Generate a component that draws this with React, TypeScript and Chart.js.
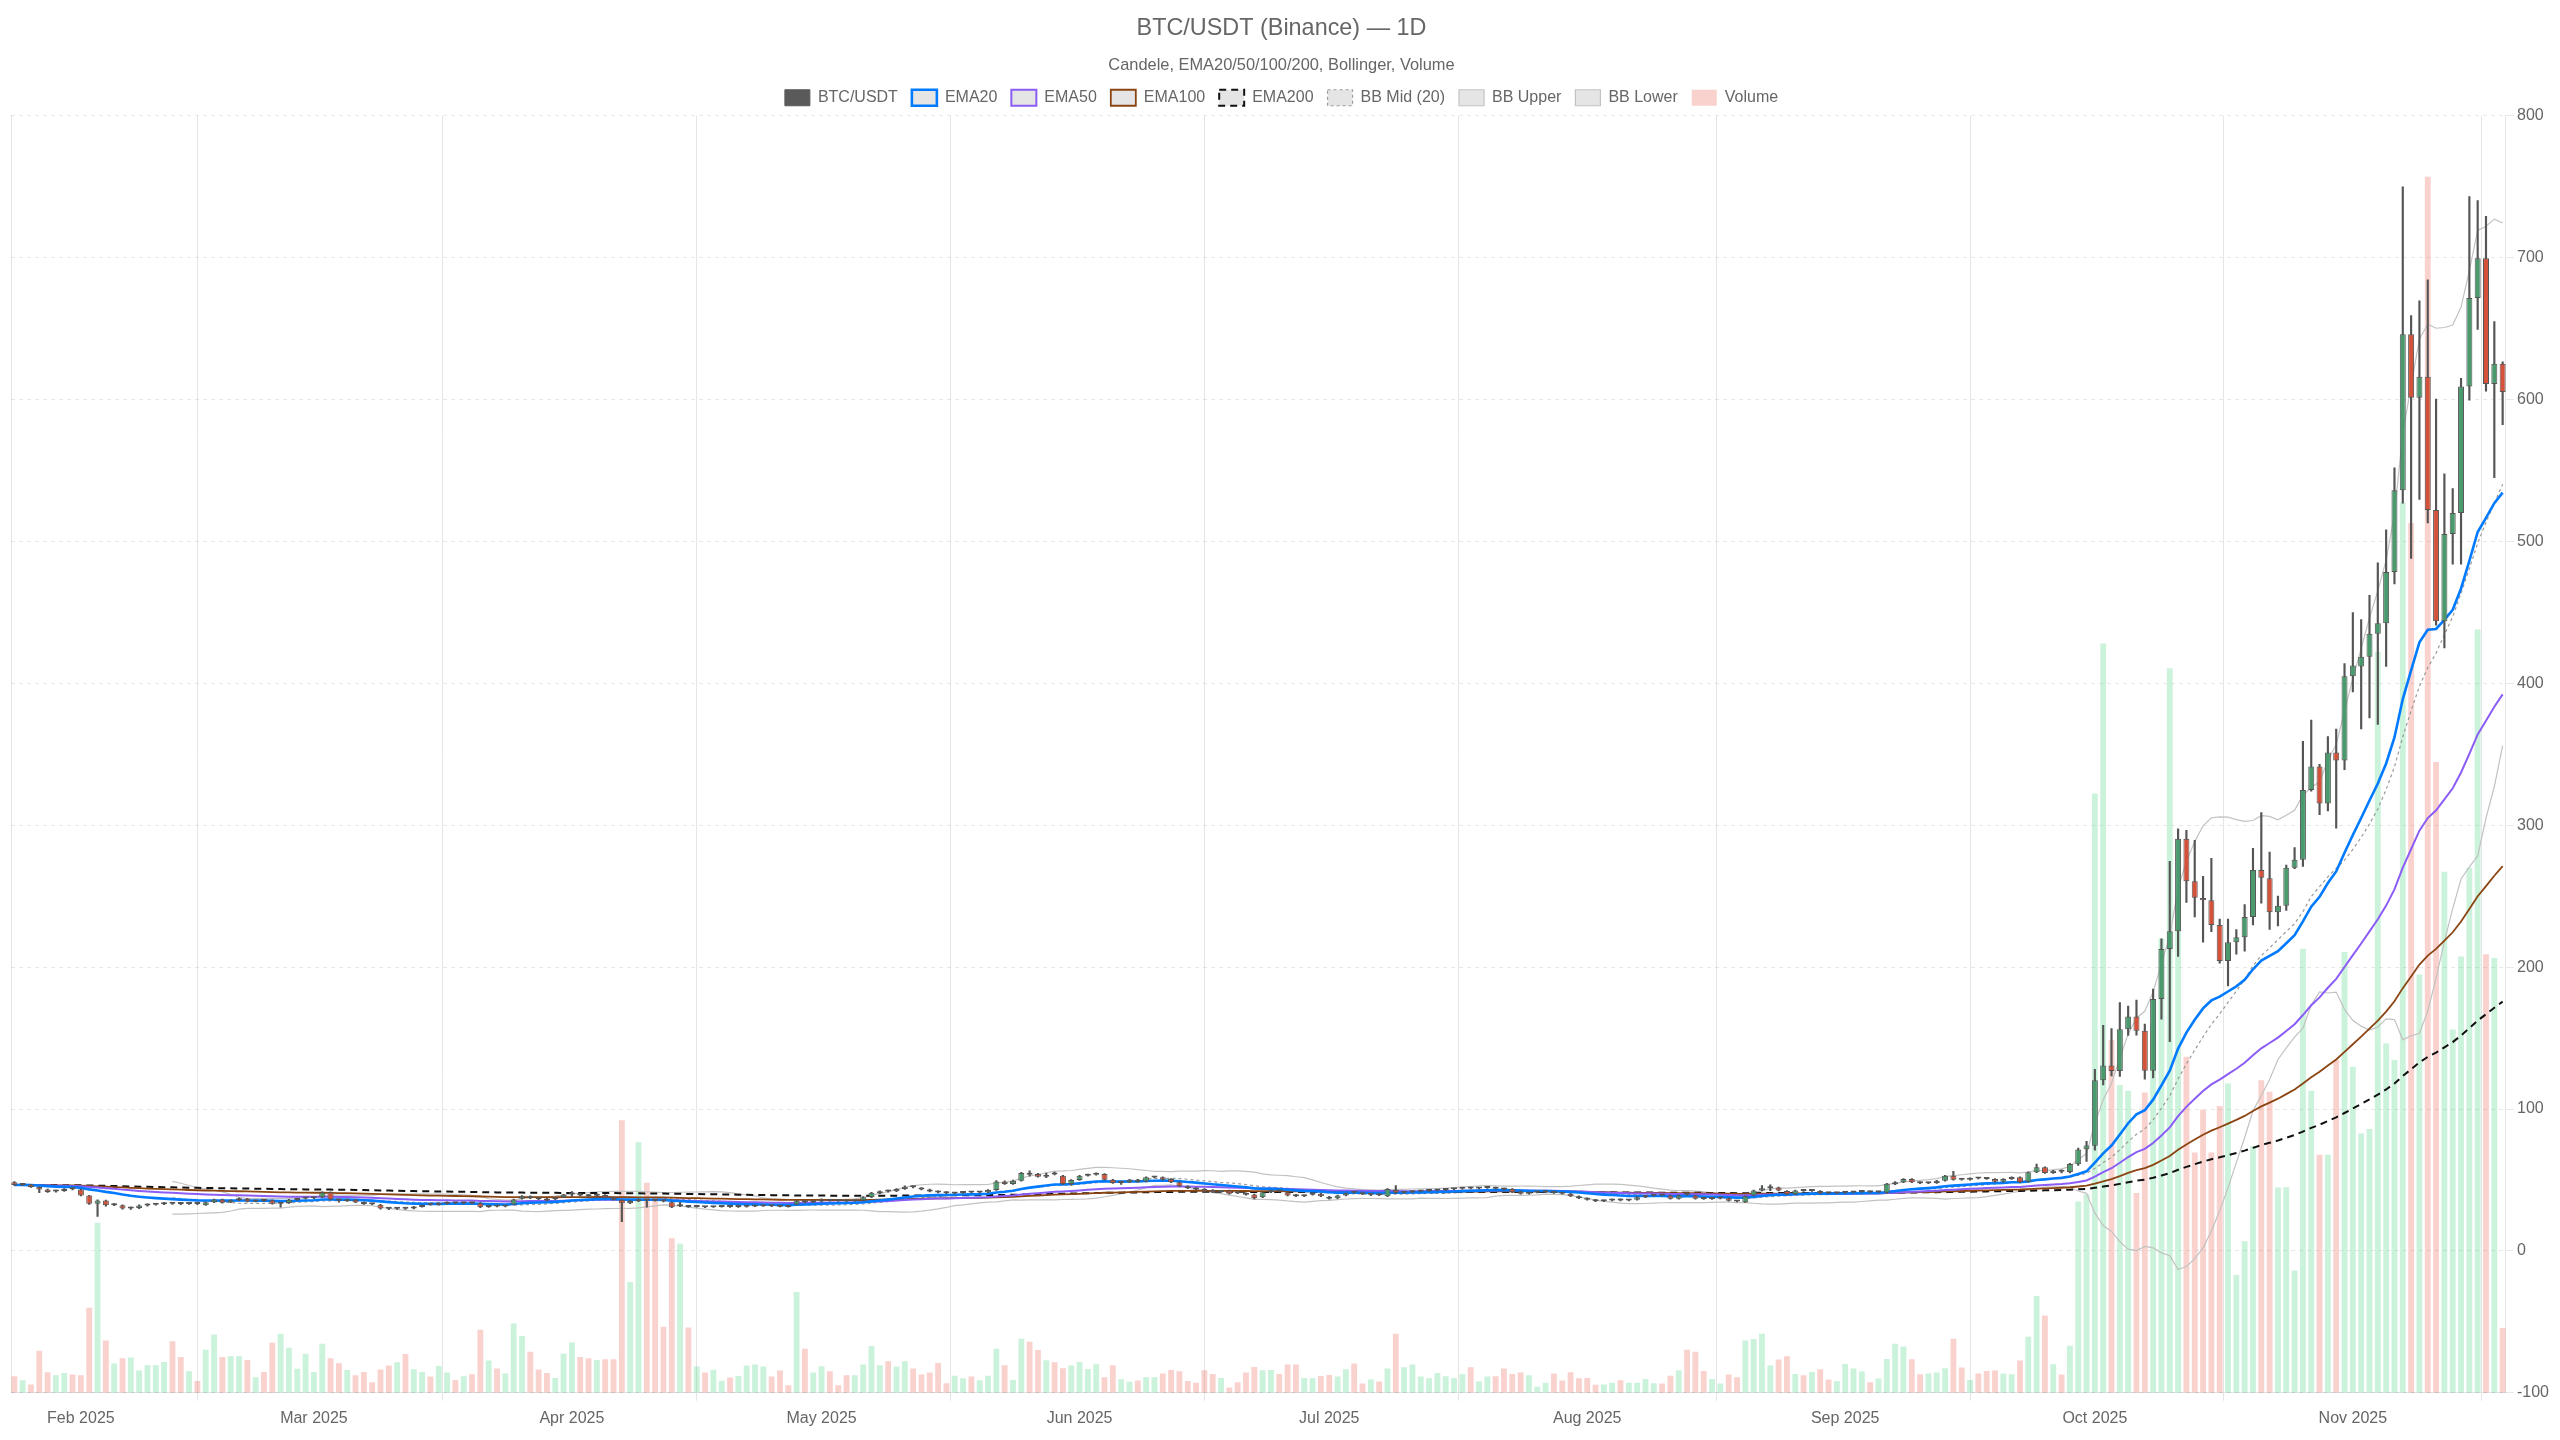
import React, { useEffect, useRef } from 'react';
import { Chart, registerables } from 'chart.js';

Chart.register(...registerables);

// ---- Data (daily candles, first candle = 2025-01-24) ----
const START_DATE = '2025-01-24';

const open = [
  48.4, 46.5, 46.8, 45.0, 43.2, 41.8, 42.2, 44.3, 43.2, 39.0, 33.3, 35.5, 32.2, 32.2, 29.8, 30.2, 32.0, 32.6, 32.8, 33.6,
  33.2, 33.0, 33.3, 32.2, 34.3, 36.2, 34.2, 35.7, 36.7, 34.8, 35.4, 35.7, 33.2, 33.7, 35.8, 36.9, 37.1, 37.8, 41.3, 36.0,
  35.0, 36.0, 34.3, 33.1, 32.6, 29.9, 29.7, 29.9, 29.9, 31.0, 33.0, 32.6, 33.2, 34.0, 33.5, 33.9, 33.6, 30.9, 31.6, 31.3,
  32.7, 36.7, 38.6, 37.4, 36.7, 36.4, 37.9, 39.8, 40.2, 39.5, 38.8, 39.4, 37.6, 35.8, 33.6, 35.0, 36.0, 35.8, 35.4, 34.3,
  31.5, 31.5, 31.0, 31.2, 30.8, 31.0, 31.2, 30.9, 31.1, 31.3, 31.5, 31.7, 31.4, 31.2, 32.7, 35.0, 34.3, 34.9, 35.8, 35.4,
  35.2, 35.0, 35.5, 37.9, 40.7, 42.1, 42.0, 43.7, 45.2, 44.4, 43.2, 42.0, 41.5, 40.5, 40.8, 41.4, 41.1, 41.4, 43.0, 48.8,
  47.2, 49.5, 54.5, 54.2, 52.3, 54.2, 53.0, 47.2, 50.0, 53.0, 53.7, 54.2, 50.2, 47.9, 48.4, 50.2, 49.0, 51.8, 51.9, 50.7,
  48.4, 45.6, 44.4, 43.7, 43.0, 41.6, 42.5, 41.2, 40.7, 39.7, 37.9, 41.4, 42.4, 41.4, 39.5, 38.6, 39.5, 40.2, 38.1, 37.1,
  39.0, 41.4, 40.7, 39.5, 40.0, 38.6, 43.0, 40.9, 41.4, 41.8, 42.2, 42.6, 43.0, 43.4, 43.8, 44.6, 44.0, 44.4, 44.5, 44.0,
  43.7, 41.8, 40.2, 41.1, 41.4, 41.8, 40.9, 40.2, 38.6, 37.1, 36.0, 35.0, 35.5, 36.4, 35.6, 36.0, 37.9, 38.8, 39.4, 39.0,
  36.7, 40.0, 39.0, 36.9, 36.6, 37.0, 37.1, 35.3, 34.3, 39.0, 42.5, 44.2, 44.6, 42.3, 40.0, 42.6, 42.2, 42.3, 40.9, 40.6,
  40.9, 41.1, 41.5, 41.8, 41.4, 40.9, 47.0, 48.4, 50.7, 48.4, 47.6, 47.9, 49.5, 53.0, 50.6, 50.2, 51.4, 51.0, 50.7, 48.8,
  50.7, 51.9, 48.8, 55.4, 58.9, 54.9, 56.5, 55.6, 61.0, 71.6, 74.1, 120.2, 130.7, 126.8, 156.2, 165.2, 155.2, 127.0, 177.5, 212.8,
  225.2, 290.5, 260.5, 248.7, 247.2, 229.7, 204.3, 217.6, 221.1, 235.4, 268.4, 262.7, 238.6, 243.3, 270.0, 275.7, 324.9, 341.4, 315.4, 351.3,
  345.6, 405.0, 411.9, 418.8, 434.9, 442.4, 478.4, 536.0, 646.1, 601.2, 616.1, 522.2, 443.8, 505.3, 520.0, 609.2, 671.5, 699.5, 610.9, 625.3,
];

const high = [
  48.8, 47.2, 47.0, 45.3, 43.5, 42.8, 44.0, 44.8, 43.5, 39.2, 36.0, 35.8, 33.4, 32.5, 30.8, 32.4, 33.2, 33.4, 34.2, 34.0,
  33.6, 33.8, 33.6, 34.6, 36.5, 36.5, 36.0, 37.4, 37.0, 35.8, 35.8, 36.0, 34.2, 36.3, 37.2, 37.6, 38.0, 41.6, 41.6, 36.3,
  36.5, 36.3, 34.5, 33.4, 32.8, 30.2, 30.4, 30.2, 31.4, 32.4, 33.4, 33.8, 34.6, 34.3, 34.2, 34.2, 34.0, 31.8, 31.9, 32.0,
  36.5, 39.0, 38.9, 37.7, 37.0, 37.7, 39.8, 41.8, 40.5, 39.8, 40.3, 39.7, 37.9, 36.1, 35.6, 36.6, 36.3, 36.1, 35.7, 34.6,
  34.3, 31.8, 31.5, 31.4, 31.3, 31.5, 31.4, 31.4, 31.6, 31.8, 32.0, 32.0, 31.7, 31.5, 35.6, 35.3, 35.3, 36.7, 36.1, 35.7,
  35.5, 35.8, 38.2, 41.2, 42.4, 42.8, 44.0, 45.8, 45.8, 44.7, 43.5, 42.3, 41.8, 41.1, 41.6, 41.7, 41.7, 43.3, 49.5, 49.4,
  49.9, 55.3, 56.5, 54.6, 54.8, 55.5, 53.3, 50.3, 53.3, 54.2, 55.0, 54.5, 50.5, 48.8, 50.5, 50.5, 52.2, 52.5, 52.2, 51.0,
  48.7, 45.9, 44.7, 44.0, 43.3, 42.6, 42.8, 41.5, 41.0, 40.0, 41.7, 42.8, 42.9, 41.7, 39.8, 39.4, 41.0, 40.5, 38.4, 39.3,
  41.0, 41.8, 41.0, 40.3, 40.3, 44.0, 46.0, 41.8, 42.3, 42.5, 42.9, 43.3, 43.7, 44.1, 44.8, 45.0, 44.8, 45.2, 44.9, 44.3,
  44.0, 42.1, 41.4, 41.7, 42.1, 42.1, 41.2, 40.5, 38.9, 37.4, 36.3, 35.8, 36.5, 36.7, 36.4, 38.2, 39.1, 39.5, 39.7, 39.3,
  39.3, 41.0, 39.3, 37.2, 37.3, 37.6, 37.4, 35.6, 38.9, 42.8, 46.0, 46.5, 44.9, 42.6, 42.8, 43.2, 43.0, 42.6, 41.2, 41.3,
  41.5, 41.8, 42.1, 42.1, 42.0, 47.7, 48.8, 51.0, 51.0, 48.7, 48.4, 49.8, 53.3, 56.0, 50.9, 51.5, 51.7, 51.3, 51.0, 51.0,
  52.2, 52.2, 55.7, 61.2, 59.2, 56.8, 57.2, 61.8, 72.5, 77.3, 128.0, 159.0, 156.7, 175.0, 172.6, 176.8, 159.8, 184.5, 219.9, 274.6,
  297.5, 296.4, 289.4, 264.0, 276.7, 233.8, 233.8, 226.5, 244.0, 283.7, 309.0, 281.0, 250.0, 272.0, 284.3, 359.2, 374.1, 343.0, 362.4, 367.8,
  413.9, 449.9, 445.0, 462.0, 485.0, 508.1, 551.8, 750.0, 659.1, 669.6, 684.3, 600.3, 547.7, 537.2, 615.0, 743.0, 740.3, 729.2, 655.0, 626.6,
];

const low = [
  46.2, 46.2, 44.8, 41.0, 41.2, 41.4, 42.0, 43.0, 38.8, 32.8, 24.3, 31.6, 31.8, 29.5, 29.3, 29.8, 31.6, 32.2, 32.6, 32.8,
  32.6, 32.7, 32.6, 32.0, 34.0, 33.6, 34.0, 35.4, 34.5, 34.6, 34.8, 33.0, 30.8, 33.5, 35.6, 36.6, 36.8, 37.6, 36.0, 34.4,
  34.8, 34.0, 32.8, 32.5, 29.5, 29.0, 29.3, 29.3, 29.6, 30.8, 32.2, 32.3, 33.0, 33.3, 33.2, 33.2, 30.5, 30.6, 31.0, 31.0,
  32.4, 36.4, 36.8, 36.1, 35.2, 36.1, 37.6, 38.4, 38.8, 38.3, 38.5, 37.3, 35.7, 20.6, 33.3, 34.7, 30.8, 35.0, 34.6, 30.5,
  31.2, 30.7, 30.8, 30.5, 30.6, 30.8, 30.6, 30.7, 30.9, 31.1, 31.3, 31.2, 31.0, 30.8, 32.4, 33.9, 34.0, 34.6, 35.0, 34.8,
  34.7, 34.8, 35.3, 37.6, 40.4, 41.4, 41.8, 43.4, 44.4, 42.9, 41.5, 40.8, 40.3, 40.2, 40.5, 40.8, 40.8, 41.1, 42.7, 46.8,
  46.9, 49.2, 52.6, 52.0, 51.6, 53.5, 46.9, 46.4, 49.7, 52.7, 53.4, 49.9, 47.6, 46.8, 48.1, 48.5, 48.7, 51.4, 49.9, 48.1,
  45.3, 43.9, 42.9, 41.5, 41.1, 41.3, 39.9, 40.3, 39.2, 36.7, 37.6, 41.1, 41.5, 38.7, 38.3, 38.3, 39.2, 38.3, 36.4, 36.8,
  38.7, 40.7, 39.7, 39.0, 39.0, 38.3, 40.6, 40.6, 41.1, 41.5, 41.9, 42.3, 42.7, 43.1, 43.5, 43.7, 43.7, 44.1, 43.5, 42.9,
  41.1, 39.9, 39.9, 40.8, 41.1, 40.6, 39.9, 38.3, 36.8, 35.7, 34.7, 34.7, 35.2, 35.3, 35.3, 35.7, 37.6, 38.5, 38.7, 36.4,
  36.4, 39.3, 36.4, 36.3, 36.3, 36.7, 35.0, 34.5, 34.0, 38.7, 42.2, 42.5, 42.2, 39.7, 39.7, 41.9, 41.9, 40.4, 40.3, 40.3,
  40.6, 40.8, 41.2, 41.1, 41.1, 40.6, 46.7, 48.1, 48.1, 47.3, 47.3, 47.6, 49.2, 49.9, 49.9, 49.9, 50.7, 50.3, 48.5, 48.5,
  50.4, 48.1, 48.5, 55.1, 54.6, 54.6, 55.0, 55.0, 60.2, 63.0, 71.0, 117.0, 123.3, 123.0, 151.9, 152.0, 121.0, 122.0, 163.3, 147.4,
  207.5, 245.6, 235.4, 217.6, 225.0, 202.7, 186.8, 209.1, 211.3, 229.7, 245.0, 226.5, 229.0, 240.0, 269.4, 271.0, 324.0, 307.5, 310.0, 298.0,
  339.2, 393.9, 367.8, 375.7, 371.0, 411.9, 470.1, 526.9, 488.1, 529.7, 513.1, 441.0, 424.9, 484.0, 484.0, 599.5, 649.4, 605.9, 545.0, 582.3,
];

const close = [
  46.5, 46.8, 45.0, 43.2, 41.6, 42.2, 43.6, 43.4, 39.0, 33.3, 35.5, 32.2, 32.8, 29.8, 30.2, 32.0, 32.6, 32.8, 33.6, 33.2,
  33.0, 33.3, 33.0, 34.3, 36.2, 34.0, 35.7, 36.6, 34.8, 35.4, 35.2, 33.2, 33.7, 36.0, 36.9, 37.1, 37.7, 41.1, 36.2, 35.5,
  36.2, 34.2, 33.0, 32.9, 29.8, 29.7, 29.9, 29.7, 31.0, 32.0, 32.6, 33.4, 34.3, 33.6, 33.9, 33.5, 30.8, 31.4, 31.3, 31.6,
  36.2, 38.6, 37.1, 36.4, 35.5, 37.4, 39.5, 40.2, 39.0, 38.6, 40.0, 37.6, 36.0, 33.6, 35.2, 36.3, 35.5, 35.4, 35.0, 30.8,
  32.4, 31.0, 31.2, 30.8, 31.0, 31.2, 30.9, 31.1, 31.3, 31.5, 31.7, 31.4, 31.2, 31.0, 35.3, 34.3, 35.0, 35.8, 35.3, 35.1,
  35.0, 35.5, 37.9, 40.9, 42.0, 41.8, 43.7, 45.3, 44.9, 43.2, 41.8, 41.1, 40.6, 40.8, 41.3, 41.1, 41.4, 43.0, 49.0, 47.2,
  49.5, 54.9, 53.6, 52.3, 53.7, 53.9, 47.2, 50.0, 53.0, 53.7, 54.2, 50.2, 47.9, 48.3, 50.2, 48.8, 51.9, 52.0, 50.2, 48.4,
  45.6, 44.2, 43.2, 41.8, 41.4, 42.2, 40.2, 40.6, 39.5, 37.1, 41.4, 42.5, 41.8, 39.0, 38.6, 39.0, 40.7, 38.6, 36.7, 39.0,
  40.7, 41.0, 40.0, 39.8, 39.3, 43.7, 40.9, 41.4, 42.0, 42.2, 42.6, 43.0, 43.4, 43.8, 44.4, 44.0, 44.4, 44.8, 43.8, 43.2,
  41.4, 40.2, 41.1, 41.4, 41.8, 40.9, 40.2, 38.6, 37.1, 36.0, 35.0, 35.5, 36.2, 35.6, 36.1, 37.9, 38.8, 39.2, 39.0, 36.7,
  39.0, 39.6, 36.7, 36.6, 37.0, 37.3, 35.3, 34.8, 38.6, 42.5, 44.2, 44.6, 42.5, 40.0, 42.5, 42.2, 42.6, 40.7, 40.6, 40.9,
  41.1, 41.5, 41.8, 41.4, 41.6, 47.4, 48.4, 50.7, 48.4, 47.6, 48.0, 49.5, 53.0, 50.2, 50.2, 51.2, 51.0, 50.6, 48.8, 50.7,
  51.9, 48.4, 55.4, 58.9, 54.9, 56.5, 55.8, 61.2, 71.5, 74.2, 120.2, 130.7, 126.8, 156.2, 165.2, 155.2, 127.0, 177.5, 212.8, 225.2,
  290.5, 260.5, 248.9, 247.2, 229.7, 204.3, 217.6, 221.1, 235.4, 268.4, 263.0, 238.6, 243.3, 270.0, 275.7, 324.9, 341.4, 315.4, 351.3, 345.6,
  405.0, 412.5, 418.8, 434.9, 442.4, 478.4, 536.0, 646.1, 601.2, 616.1, 522.2, 443.8, 505.3, 520.0, 609.2, 671.5, 699.5, 610.9, 625.3, 605.3,
];

// volume, in arbitrary units (hidden axis 0..900)
const volume = [
  11.7, 8.9, 5.8, 29.7, 14.5, 12.4, 14.0, 12.9, 12.4, 60.0, 119.9, 36.9, 20.6, 24.3, 24.8, 15.7, 19.6, 19.6, 21.7, 36.4,
  25.2, 15.2, 8.4, 30.4, 41.1, 25.2, 25.7, 25.7, 23.1, 11.0, 14.7, 35.3, 41.6, 31.8, 17.0, 27.6, 14.7, 34.6, 24.3, 20.8,
  16.1, 12.4, 14.7, 7.5, 16.4, 19.2, 21.5, 27.3, 16.6, 14.7, 11.4, 18.9, 14.3, 9.1, 11.7, 13.1, 44.4, 22.7, 17.1, 13.6,
  48.8, 40.0, 29.0, 16.4, 14.0, 10.5, 27.6, 35.5, 25.2, 24.3, 23.1, 23.7, 23.7, 192.0, 78.0, 176.5, 148.0, 138.6, 46.5, 108.9,
  105.0, 46.0, 18.5, 14.3, 16.2, 8.5, 10.8, 11.9, 19.2, 19.9, 18.5, 11.4, 15.7, 5.4, 71.0, 31.1, 14.3, 18.7, 15.2, 5.4,
  12.4, 12.4, 19.9, 32.9, 19.4, 22.2, 18.5, 22.2, 17.1, 12.9, 14.3, 21.0, 6.8, 12.1, 10.3, 11.4, 8.9, 12.1, 31.1, 19.4,
  9.1, 38.1, 36.0, 30.1, 22.9, 21.5, 17.3, 19.2, 21.7, 16.8, 20.1, 11.0, 19.4, 9.6, 7.7, 8.6, 11.0, 11.0, 13.6, 16.1,
  15.2, 8.4, 7.0, 15.9, 13.3, 10.5, 3.7, 7.5, 14.3, 18.2, 15.9, 16.1, 13.3, 19.9, 19.9, 10.5, 10.3, 11.9, 12.6, 11.4,
  16.6, 20.6, 6.5, 9.3, 7.9, 17.1, 41.6, 18.0, 19.9, 11.4, 10.3, 14.0, 11.7, 10.5, 13.1, 18.0, 7.9, 11.4, 11.7, 17.1,
  13.3, 14.3, 12.4, 4.2, 7.0, 13.6, 8.6, 14.5, 10.3, 10.5, 5.6, 5.8, 7.0, 8.9, 7.0, 7.0, 9.8, 6.8, 6.5, 12.1,
  15.9, 30.4, 29.0, 15.4, 9.8, 6.5, 12.9, 11.0, 36.9, 37.9, 41.6, 19.2, 23.4, 25.7, 13.3, 12.4, 14.7, 16.6, 9.3, 8.4,
  20.3, 17.1, 15.0, 7.5, 10.0, 23.8, 34.6, 32.7, 23.6, 13.1, 13.6, 14.3, 17.3, 38.1, 17.8, 9.1, 13.6, 15.4, 15.7, 13.6,
  13.1, 22.7, 39.5, 68.2, 54.4, 20.1, 12.9, 33.2, 134.8, 140.0, 422.4, 528.0, 248.7, 217.0, 212.9, 140.8, 211.6, 260.0, 320.2, 510.6,
  330.0, 236.8, 169.4, 199.5, 169.4, 202.1, 218.0, 83.0, 106.8, 174.0, 220.2, 212.2, 144.6, 144.9, 86.2, 312.9, 212.9, 167.8, 167.8, 234.5,
  310.6, 229.7, 182.7, 185.9, 522.0, 246.2, 234.5, 627.5, 613.0, 294.8, 857.0, 444.6, 367.2, 256.0, 307.5, 370.0, 538.0, 309.1, 306.5, 45.6,
];

const TICK_DATES = [
  '2025-02-01', '2025-03-01', '2025-04-01', '2025-05-01', '2025-06-01',
  '2025-07-01', '2025-08-01', '2025-09-01', '2025-10-01', '2025-11-01',
];
const TICK_LABELS = [
  'Feb 2025', 'Mar 2025', 'Apr 2025', 'May 2025', 'Jun 2025',
  'Jul 2025', 'Aug 2025', 'Sep 2025', 'Oct 2025', 'Nov 2025',
];

// ---- Styles ----
const UP = '#4b9a6d';
const DOWN = '#d4523a';
const CANDLE_EDGE = '#555555';
const VOL_UP = 'rgba(46, 204, 113, 0.25)';
const VOL_DOWN = 'rgba(231, 76, 60, 0.25)';

const DAY = 86400000;
const t0 = Date.parse(START_DATE + 'T00:00:00Z');
const dayOf = (d: string) => Math.round((Date.parse(d + 'T00:00:00Z') - t0) / DAY);
const TICK_DAYS = TICK_DATES.map(dayOf);

function ema(src: number[], n: number): number[] {
  const k = 2 / (n + 1);
  const out: number[] = [];
  src.forEach((v, i) => {
    out.push(i === 0 ? v : v * k + out[i - 1] * (1 - k));
  });
  return out;
}

function bollinger(src: number[], n: number, mult: number) {
  const mid: (number | null)[] = [];
  const up: (number | null)[] = [];
  const lo: (number | null)[] = [];
  for (let i = 0; i < src.length; i++) {
    if (i < n - 1) {
      mid.push(null); up.push(null); lo.push(null);
      continue;
    }
    const win = src.slice(i - n + 1, i + 1);
    const m = win.reduce((a, b) => a + b, 0) / n;
    const sd = Math.sqrt(win.reduce((a, b) => a + (b - m) * (b - m), 0) / n);
    mid.push(m); up.push(m + mult * sd); lo.push(m - mult * sd);
  }
  return { mid, up, lo };
}

export default function App() {
  const ref = useRef<HTMLCanvasElement>(null);

  useEffect(() => {
    if (!ref.current) return;
    const n = close.length;
    const idx = Array.from({ length: n }, (_, i) => i);
    const isUp = idx.map((i) => close[i] >= open[i]);
    const e20 = ema(close, 20);
    const e50 = ema(close, 50);
    const e100 = ema(close, 100);
    const e200 = ema(close, 200);
    const bb = bollinger(close, 20, 2);
    const pts = (arr: (number | null)[]) => idx.map((i) => ({ x: i, y: arr[i] }));

    const chart = new Chart(ref.current, {
      type: 'bar',
      data: {
        datasets: [
          {
            type: 'bar',
            label: 'BTC/USDT',
            data: idx.map((i) => ({ x: i, y: [open[i], close[i]] })) as any,
            backgroundColor: isUp.map((u) => (u ? UP : DOWN)),
            borderColor: CANDLE_EDGE,
            borderWidth: 1,
            borderSkipped: false,
            minBarLength: 2,
            barPercentage: 0.72,
            categoryPercentage: 1,
            grouped: false,
            order: 0,
            yAxisID: 'y',
          },
          {
            type: 'bar',
            label: '',
            data: idx.map((i) => ({ x: i, y: [low[i], high[i]] })) as any,
            backgroundColor: CANDLE_EDGE,
            borderWidth: 0,
            barThickness: 1.5,
            grouped: false,
            order: 1,
            yAxisID: 'y',
          },
          {
            type: 'line', label: 'EMA20', data: pts(e20) as any,
            borderColor: 'rgb(0, 122, 255)', borderWidth: 2.6, pointRadius: 0, order: 2, yAxisID: 'y',
          },
          {
            type: 'line', label: 'EMA50', data: pts(e50) as any,
            borderColor: '#8b5cf6', borderWidth: 2, pointRadius: 0, order: 3, yAxisID: 'y',
          },
          {
            type: 'line', label: 'EMA100', data: pts(e100) as any,
            borderColor: '#8b4513', borderWidth: 1.8, pointRadius: 0, order: 4, yAxisID: 'y',
          },
          {
            type: 'line', label: 'EMA200', data: pts(e200) as any,
            borderColor: '#111111', borderWidth: 2, borderDash: [7, 5], pointRadius: 0, order: 5, yAxisID: 'y',
          },
          {
            type: 'line', label: 'BB Mid (20)', data: pts(bb.mid) as any,
            borderColor: '#9a9a9a', borderWidth: 1.2, borderDash: [3, 3], pointRadius: 0, order: 6, yAxisID: 'y',
          },
          {
            type: 'line', label: 'BB Upper', data: pts(bb.up) as any,
            borderColor: '#c2c2c2', borderWidth: 1.2, pointRadius: 0, order: 7, yAxisID: 'y',
          },
          {
            type: 'line', label: 'BB Lower', data: pts(bb.lo) as any,
            borderColor: '#c2c2c2', borderWidth: 1.2, pointRadius: 0, order: 8, yAxisID: 'y',
          },
          {
            type: 'bar',
            label: 'Volume',
            data: idx.map((i) => ({ x: i, y: volume[i] })) as any,
            backgroundColor: isUp.map((u) => (u ? VOL_UP : VOL_DOWN)),
            borderWidth: 0,
            barPercentage: 0.7,
            categoryPercentage: 1,
            grouped: false,
            order: 9,
            yAxisID: 'yv',
          },
        ] as any,
      },
      options: {
        animation: false,
        responsive: true,
        maintainAspectRatio: false,
        layout: { padding: { left: 3 } },
        plugins: {
          title: {
            display: true,
            text: 'BTC/USDT (Binance) — 1D',
            color: '#666',
            font: { size: 23.4, weight: 'normal' },
            padding: { top: 7, bottom: 13 },
          },
          subtitle: {
            display: true,
            text: 'Candele, EMA20/50/100/200, Bollinger, Volume',
            color: '#666',
            font: { size: 16.4 },
            padding: { top: 0, bottom: 0 },
          },
          legend: {
            labels: {
              color: '#666',
              font: { size: 16 },
              boxWidth: 25,
              boxHeight: 16,
              padding: 14,
              generateLabels: (chart: any) => {
                const base = (Chart.defaults.plugins.legend.labels as any).generateLabels(chart);
                return base
                  .filter((it: any) => it.text)
                  .map((it: any) => {
                    if (it.text === 'BTC/USDT') return { ...it, fillStyle: '#5a5a5a', strokeStyle: '#5a5a5a', lineWidth: 1 };
                    if (it.text === 'Volume') return { ...it, fillStyle: VOL_DOWN, strokeStyle: VOL_DOWN, lineWidth: 0 };
                    return it;
                  });
              },
            },
          },
          tooltip: { enabled: false },
        },
        scales: {
          x: {
            type: 'linear',
            min: -0.4,
            max: n - 1 + 0.4,
            offset: false,
            grid: { offset: true, color: 'rgba(0,0,0,0.1)' },
            afterBuildTicks: (axis: any) => {
              axis.ticks = TICK_DAYS.map((v) => ({ value: v }));
            },
            ticks: {
              autoSkip: false,
              maxRotation: 0,
              padding: 8,
              color: '#666',
              font: { size: 16 },
              callback: (_v: any, i: number) => TICK_LABELS[i],
            },
          },
          y: {
            position: 'right',
            min: -100,
            max: 800,
            ticks: { stepSize: 100, color: '#666', font: { size: 16 } },
            grid: { color: 'rgba(0,0,0,0.09)' },
            border: { dash: [4, 4], color: 'rgba(0,0,0,0.1)' },
          },
          yv: {
            position: 'left',
            min: 0,
            max: 900,
            ticks: { display: false },
            grid: { display: false, drawTicks: false },
            border: { display: true, color: 'rgba(0,0,0,0.1)' },
          },
        },
      } as any,
    });
    return () => chart.destroy();
  }, []);

  return (
    <div style={{ position: 'relative', width: '100%', height: '1428px', marginBottom: '-4px' }}>
      <canvas ref={ref} />
    </div>
  );
}
